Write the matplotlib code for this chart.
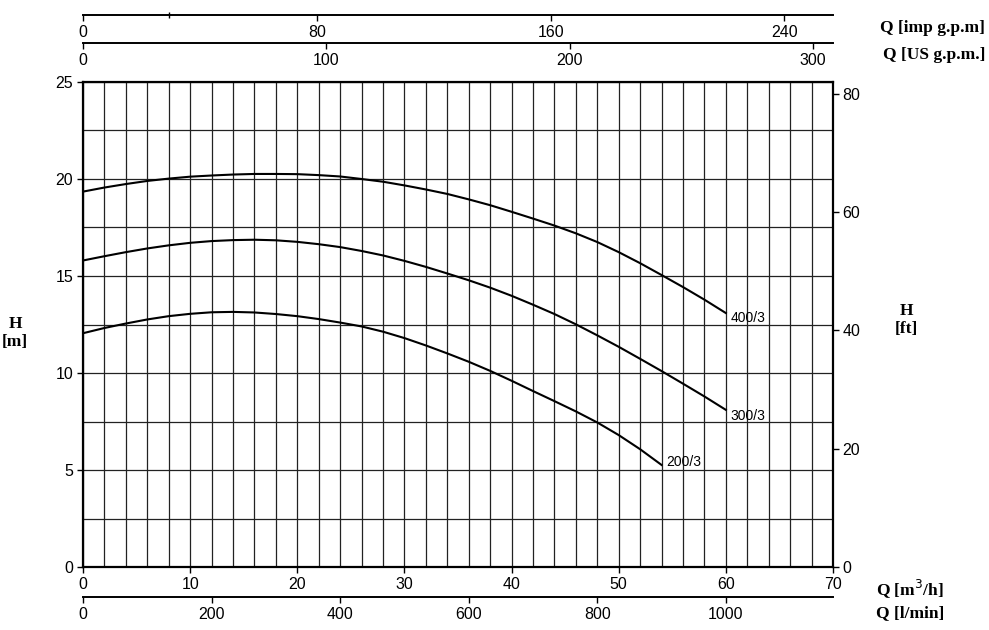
import numpy as np
import matplotlib
matplotlib.use("Agg")
import matplotlib.pyplot as plt

# Pump curves (Q in m3/h, H in m)
q_400 = list(range(0, 61, 2))
h_400 = [19.35, 19.56, 19.74, 19.90, 20.02, 20.12, 20.18, 20.23, 20.26, 20.26,
         20.25, 20.20, 20.13, 20.00, 19.86, 19.67, 19.46, 19.23, 18.95, 18.65,
         18.31, 17.96, 17.60, 17.20, 16.75, 16.23, 15.66, 15.05, 14.43, 13.78,
         13.09]
q_300 = list(range(0, 61, 2))
h_300 = [15.80, 16.02, 16.23, 16.42, 16.58, 16.71, 16.80, 16.85, 16.87, 16.84,
         16.76, 16.64, 16.49, 16.29, 16.06, 15.78, 15.47, 15.13, 14.78, 14.40,
         13.98, 13.52, 13.04, 12.51, 11.94, 11.35, 10.73, 10.10, 9.45, 8.79,
         8.10]
q_200 = list(range(0, 55, 2))
h_200 = [12.05, 12.32, 12.55, 12.76, 12.93, 13.05, 13.13, 13.15, 13.12, 13.04,
         12.93, 12.78, 12.60, 12.40, 12.13, 11.80, 11.42, 11.01, 10.58, 10.11,
         9.60, 9.07, 8.55, 8.02, 7.45, 6.80, 6.07, 5.26]
curve_names = ["400/3", "300/3", "200/3"]
label_h = [12.83, 7.78, 5.41]

# unit conversions from m3/h
IMP = 3.6662
USG = 4.4029
LMIN = 16.6667
FT = 3.2808

q_max = 70
h_max = 25

imp_ticks = [0, 80, 160, 240]
us_ticks = [0, 100, 200, 300]
lmin_ticks = [0, 200, 400, 600, 800, 1000]
ft_ticks = [0, 20, 40, 60, 80]

fig = plt.figure(figsize=(9.89, 6.3), dpi=100)
L, R = 83 / 989, 833 / 989
ax = fig.add_axes([L, 63 / 630, R - L, 485 / 630])

tick_font = dict(family="Liberation Sans", size=11.5)
lab_font = dict(family="Liberation Serif", size=12.5, weight="bold")

ax.set_xlim(0, q_max)
ax.set_ylim(0, h_max)
ax.set_xticks(np.arange(0, 71, 10))
ax.set_yticks(np.arange(0, 26, 5))
ax.set_xticks(np.arange(0, 71, 2), minor=True)
ax.set_yticks(np.arange(0, 25.1, 2.5), minor=True)
ax.tick_params(which="minor", length=0)
ax.tick_params(which="major", length=4, width=1, direction="out", pad=3)
ax.grid(which="both", color="#222222", lw=0.9)
ax.set_axisbelow(True)
for lab in ax.get_xticklabels() + ax.get_yticklabels():
    lab.set_fontfamily(tick_font["family"])
    lab.set_fontsize(tick_font["size"])
for s in ax.spines.values():
    s.set_linewidth(1.6)

for q, h, name, ly in zip([q_400, q_300, q_200], [h_400, h_300, h_200],
                          curve_names, label_h):
    ax.plot(q, h, color="black", lw=1.5)
    ax.text(q[-1] + 0.4, ly, name, fontsize=10, family="Liberation Sans",
            ha="left", va="center")

# right axis in feet
ax2 = ax.twinx()
ax2.set_ylim(0, h_max * FT)
ax2.set_yticks(ft_ticks)
ax2.tick_params(length=4, width=1, pad=3)
for lab in ax2.get_yticklabels():
    lab.set_fontfamily(tick_font["family"])
    lab.set_fontsize(tick_font["size"])
for s in ax2.spines.values():
    s.set_visible(False)


def extra_axis(y_px, factor, ticks, minor=None):
    a = fig.add_axes([L, 1 - y_px / 630, R - L, 1e-6])
    a.set_xlim(0, q_max * factor)
    a.set_ylim(0, 1)
    a.set_yticks([])
    for k in ["top", "left", "right"]:
        a.spines[k].set_visible(False)
    a.spines["bottom"].set_linewidth(1.4)
    a.set_xticks(ticks)
    if minor:
        a.set_xticks(minor, minor=True)
        a.tick_params(which="minor", direction="inout", length=5, width=1)
    a.tick_params(which="major", length=4, width=1, pad=3)
    a.patch.set_visible(False)
    for lab in a.get_xticklabels():
        lab.set_fontfamily(tick_font["family"])
        lab.set_fontsize(tick_font["size"])
    return a


extra_axis(15, IMP, imp_ticks, minor=[29.4])
extra_axis(43, USG, us_ticks)
extra_axis(597, LMIN, lmin_ticks)

fig.text(985 / 989, 1 - 28 / 630, "Q [imp g.p.m]", ha="right", va="center", **lab_font)
fig.text(985 / 989, 1 - 55 / 630, "Q [US g.p.m.]", ha="right", va="center", **lab_font)
fig.text(876 / 989, 1 - 589 / 630, "Q [m$^3$/h]", ha="left", va="center", **lab_font)
fig.text(876 / 989, 1 - 613 / 630, "Q [l/min]", ha="left", va="center", **lab_font)
fig.text(15 / 989, 1 - 333 / 630, "H\n[m]", ha="center", va="center",
         linespacing=1.2, **lab_font)
fig.text(906 / 989, 1 - 320 / 630, "H\n[ft]", ha="center", va="center",
         linespacing=1.2, **lab_font)

fig.savefig("out.png", dpi=100)
